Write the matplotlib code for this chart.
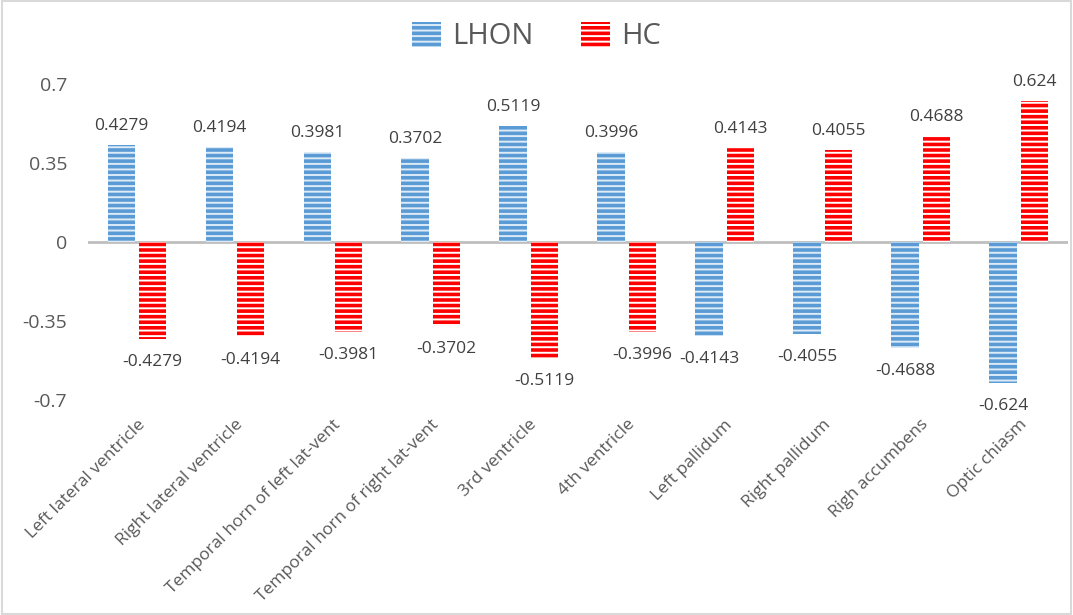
import numpy as np
import matplotlib.pyplot as plt
from matplotlib.patches import Rectangle

plt.rcParams['font.family'] = ['Open Sans', 'DejaVu Sans']
plt.rcParams['hatch.linewidth'] = 1.4

regiones = ['Left lateral ventricle', 'Right lateral ventricle',
            'Temporal horn of left lat-vent', 'Temporal horn of right lat-vent',
            '3rd ventricle', '4th ventricle', 'Left pallidum', 'Right pallidum',
            'Righ accumbens', 'Optic chiasm']
lhon = [0.4279, 0.4194, 0.3981, 0.3702, 0.5119, 0.3996, -0.4143, -0.4055, -0.4688, -0.624]
hc = [-0.4279, -0.4194, -0.3981, -0.3702, -0.5119, -0.3996, 0.4143, 0.4055, 0.4688, 0.624]
etiquetas_lhon = ['0.4279', '0.4194', '0.3981', '0.3702', '0.5119', '0.3996',
                  '-0.4143', '-0.4055', '-0.4688', '-0.624']
etiquetas_hc = ['-0.4279', '-0.4194', '-0.3981', '-0.3702', '-0.5119', '-0.3996',
                '0.4143', '0.4055', '0.4688', '0.624']

azul = '#5B9BD5'
rojo = '#FF0000'
gris = '#595959'

fig = plt.figure(figsize=(10.73, 6.15), dpi=100)
ax = fig.add_axes([0.082, 0.3496, 0.913, 0.5138])
fig.patches.append(Rectangle((0.002, 0.002), 0.996, 0.996, transform=fig.transFigure,
                             fill=False, edgecolor='#D9D9D9', linewidth=1.5))

x = np.arange(len(regiones))
ancho = 0.28
b1 = ax.bar(x - 0.16, lhon, ancho, color=azul, edgecolor='#DDEBF7', hatch='---',
            linewidth=0, label='LHON')
b2 = ax.bar(x + 0.16, hc, ancho, color=rojo, edgecolor='white', hatch='---',
            linewidth=0, label='HC')

for barras, etiquetas in [(b1, etiquetas_lhon), (b2, etiquetas_hc)]:
    for b, t in zip(barras, etiquetas):
        v = b.get_height()
        xc = b.get_x() + b.get_width() / 2
        if v >= 0:
            ax.annotate(t, (xc, v), xytext=(0, 8), textcoords='offset points',
                        ha='center', va='bottom', fontsize=12.5, color='#404040')
        else:
            ax.annotate(t, (xc, v), xytext=(0, -11), textcoords='offset points',
                        ha='center', va='top', fontsize=12.5, color='#404040')

ax.axhline(0, color='#BFBFBF', linewidth=2, zorder=0)
ax.set_xlim(-0.5, len(regiones) - 0.5)
ax.set_ylim(-0.7, 0.7)
ax.set_yticks([-0.7, -0.35, 0, 0.35, 0.7])
ax.set_yticklabels(['-0.7', '-0.35', '0', '0.35', '0.7'])
ax.set_xticks(x)
ax.set_xticklabels(regiones, rotation=45, ha='right', rotation_mode='anchor')
ax.tick_params(axis='y', length=0, labelsize=14, labelcolor=gris, pad=15)
ax.tick_params(axis='x', length=0, labelsize=12.5, labelcolor=gris, pad=12)
for s in ax.spines.values():
    s.set_visible(False)

fig.legend(handles=[b1, b2], loc='center', bbox_to_anchor=(0.5, 0.94), ncol=2,
           frameon=False, fontsize=21, labelcolor=gris, handlelength=1.0,
           handleheight=0.9, columnspacing=1.6, handletextpad=0.4)

fig.savefig('out.png', dpi=100)
